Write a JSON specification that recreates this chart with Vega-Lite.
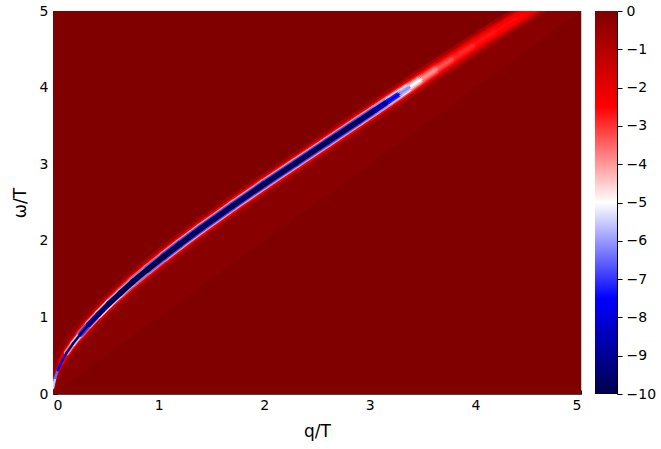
{
  "$schema": "https://vega.github.io/schema/vega-lite/v6.json",
  "padding": {"left": 10, "top": 3, "right": 2, "bottom": 5},
  "spacing": 14,
  "bounds": "flush",
  "config": {
    "font": "DejaVu Sans",
    "view": {"stroke": "#c8c8c8"},
    "axis": {"grid": false, "labelFontSize": 14, "titleFontSize": 17, "titleFontWeight": "normal", "labelColor": "#000", "titleColor": "#000", "tickColor": "#000", "domainColor": "#444"}
  },
  "datasets": {
    "bg": [{"q0": 0, "q1": 5, "w0": 0, "w1": 5, "v": 0}],
    "cone": [
      {"q": 0, "upper": 0.08, "lower": 0, "v": -0.15},
      {"q": 0.045, "upper": 0.31, "lower": 0.045, "v": -0.15},
      {"q": 0.13, "upper": 0.54, "lower": 0.13, "v": -0.15},
      {"q": 0.26, "upper": 0.78, "lower": 0.26, "v": -0.15},
      {"q": 0.43, "upper": 1.04, "lower": 0.43, "v": -0.15},
      {"q": 0.64, "upper": 1.32, "lower": 0.64, "v": -0.15},
      {"q": 0.9, "upper": 1.63, "lower": 0.9, "v": -0.15},
      {"q": 1.2, "upper": 1.955, "lower": 1.2, "v": -0.15},
      {"q": 2.0, "upper": 2.74, "lower": 2.0, "v": -0.15},
      {"q": 2.9, "upper": 3.568, "lower": 2.9, "v": -0.15},
      {"q": 3.8, "upper": 4.39, "lower": 3.8, "v": -0.15},
      {"q": 4.6, "upper": 5.085, "lower": 4.6, "v": -0.15},
      {"q": 5.0, "upper": 5.4, "lower": 5.0, "v": -0.15}
    ],
    "band": [
      {"q": 0, "w": 0.08, "q2": 0.02, "w2": 0.21, "f": -0.1, "a": -0.15, "b": -0.2, "c": -0.3, "d": -0.6, "e": -5.5},
      {"q": 0.02, "w": 0.21, "q2": 0.045, "w2": 0.31, "f": -0.1, "a": -0.15, "b": -0.25, "c": -0.4, "d": -0.9, "e": -6.5},
      {"q": 0.045, "w": 0.31, "q2": 0.08, "w2": 0.42, "f": -0.15, "a": -0.2, "b": -0.3, "c": -0.6, "d": -1.4, "e": -7.5},
      {"q": 0.08, "w": 0.42, "q2": 0.13, "w2": 0.54, "f": -0.2, "a": -0.25, "b": -0.45, "c": -1, "d": -2.4, "e": -8.5},
      {"q": 0.13, "w": 0.54, "q2": 0.19, "w2": 0.66, "f": -0.2, "a": -0.35, "b": -0.8, "c": -1.7, "d": -3.8, "e": -9.3},
      {"q": 0.19, "w": 0.66, "q2": 0.26, "w2": 0.78, "f": -0.25, "a": -0.5, "b": -1.1, "c": -2.5, "d": -5.5, "e": -9.8},
      {"q": 0.26, "w": 0.78, "q2": 0.34, "w2": 0.91, "f": -0.3, "a": -0.7, "b": -1.5, "c": -3.2, "d": -7, "e": -10},
      {"q": 0.34, "w": 0.91, "q2": 0.43, "w2": 1.04, "f": -0.3, "a": -0.9, "b": -1.9, "c": -4, "d": -8.3, "e": -10},
      {"q": 0.43, "w": 1.04, "q2": 0.53, "w2": 1.18, "f": -0.35, "a": -1.1, "b": -2.3, "c": -4.7, "d": -9.2, "e": -10},
      {"q": 0.53, "w": 1.18, "q2": 0.64, "w2": 1.32, "f": -0.4, "a": -1.3, "b": -2.7, "c": -5.3, "d": -9.7, "e": -10},
      {"q": 0.64, "w": 1.32, "q2": 0.76, "w2": 1.47, "f": -0.45, "a": -1.5, "b": -3, "c": -5.8, "d": -10, "e": -10},
      {"q": 0.76, "w": 1.47, "q2": 0.9, "w2": 1.63, "f": -0.5, "a": -1.7, "b": -3.3, "c": -6.2, "d": -10, "e": -10},
      {"q": 0.9, "w": 1.63, "q2": 1.05, "w2": 1.795, "f": -0.55, "a": -1.9, "b": -3.6, "c": -6.6, "d": -10, "e": -10},
      {"q": 1.05, "w": 1.795, "q2": 1.2, "w2": 1.955, "f": -0.6, "a": -2.1, "b": -3.9, "c": -6.8, "d": -10, "e": -10},
      {"q": 1.2, "w": 1.955, "q2": 1.4, "w2": 2.16, "f": -0.6, "a": -2.2, "b": -4, "c": -6.8, "d": -9.6, "e": -10},
      {"q": 1.4, "w": 2.16, "q2": 1.7, "w2": 2.455, "f": -0.6, "a": -2.2, "b": -4, "c": -6.8, "d": -9.6, "e": -10},
      {"q": 1.7, "w": 2.455, "q2": 2.0, "w2": 2.74, "f": -0.6, "a": -2.2, "b": -4, "c": -6.8, "d": -9.6, "e": -10},
      {"q": 2.0, "w": 2.74, "q2": 2.3, "w2": 3.016, "f": -0.6, "a": -2.2, "b": -4, "c": -6.8, "d": -9.6, "e": -10},
      {"q": 2.3, "w": 3.016, "q2": 2.6, "w2": 3.292, "f": -0.6, "a": -2.2, "b": -4, "c": -6.8, "d": -9.6, "e": -10},
      {"q": 2.6, "w": 3.292, "q2": 2.9, "w2": 3.568, "f": -0.6, "a": -2.2, "b": -4, "c": -6.8, "d": -9.6, "e": -10},
      {"q": 2.9, "w": 3.568, "q2": 3.05, "w2": 3.706, "f": -0.6, "a": -2.2, "b": -4, "c": -6.6, "d": -9.3, "e": -9.8},
      {"q": 3.05, "w": 3.706, "q2": 3.18, "w2": 3.826, "f": -0.6, "a": -2.2, "b": -3.9, "c": -6.2, "d": -8.5, "e": -9},
      {"q": 3.18, "w": 3.826, "q2": 3.29, "w2": 3.927, "f": -0.65, "a": -2.2, "b": -3.7, "c": -5.5, "d": -7.2, "e": -7.7},
      {"q": 3.29, "w": 3.927, "q2": 3.39, "w2": 4.019, "f": -0.7, "a": -2.2, "b": -3.4, "c": -4.7, "d": -5.7, "e": -6.1},
      {"q": 3.39, "w": 4.019, "q2": 3.5, "w2": 4.12, "f": -0.75, "a": -2, "b": -3, "c": -3.8, "d": -4.5, "e": -5},
      {"q": 3.5, "w": 4.12, "q2": 3.65, "w2": 4.258, "f": -0.75, "a": -1.9, "b": -2.7, "c": -3.2, "d": -3.6, "e": -3.9},
      {"q": 3.65, "w": 4.258, "q2": 3.8, "w2": 4.39, "f": -0.75, "a": -1.8, "b": -2.5, "c": -2.8, "d": -3.1, "e": -3.3},
      {"q": 3.8, "w": 4.39, "q2": 4.0, "w2": 4.57, "f": -0.75, "a": -1.7, "b": -2.4, "c": -2.6, "d": -2.8, "e": -2.9},
      {"q": 4.0, "w": 4.57, "q2": 4.2, "w2": 4.745, "f": -0.75, "a": -1.6, "b": -2.3, "c": -2.5, "d": -2.6, "e": -2.7},
      {"q": 4.2, "w": 4.745, "q2": 4.4, "w2": 4.915, "f": -0.7, "a": -1.5, "b": -2.2, "c": -2.4, "d": -2.5, "e": -2.6},
      {"q": 4.4, "w": 4.915, "q2": 4.6, "w2": 5.085, "f": -0.7, "a": -1.4, "b": -2.1, "c": -2.3, "d": -2.4, "e": -2.5}
    ],
    "bar": [{"lo": -10, "hi": 0}]
  },
  "hconcat": [
    {
      "width": 528,
      "height": 383,
      "layer": [
        {
          "data": {"name": "bg"},
          "mark": {"type": "rect"},
          "encoding": {
            "x": {"field": "q0", "type": "quantitative", "scale": {"domain": [0, 5], "nice": false, "zero": false},
              "axis": {"title": "q/T", "values": [0, 1, 2, 3, 4, 5], "format": "d", "tickSize": -4, "labelPadding": 8, "titlePadding": 11}},
            "x2": {"field": "q1"},
            "y": {"field": "w0", "type": "quantitative", "scale": {"domain": [0, 5], "nice": false, "zero": false},
              "axis": {"title": "ω/T", "values": [0, 1, 2, 3, 4, 5], "format": "d", "tickSize": -4, "labelPadding": 9, "titlePadding": 10}},
            "y2": {"field": "w1"},
            "color": {"field": "v", "type": "quantitative", "scale": {"domain": [-10, -7.5, -5, -2.5, 0], "range": ["#00004c", "#0000ff", "#ffffff", "#ff0000", "#800000"], "interpolate": "rgb"}, "legend": null}
          }
        },
        {
          "data": {"name": "cone"},
          "mark": {"type": "area", "clip": true},
          "encoding": {
            "x": {"field": "q", "type": "quantitative"},
            "y": {"field": "upper", "type": "quantitative"},
            "y2": {"field": "lower"},
            "color": {"field": "v", "type": "quantitative", "legend": null}
          }
        },
        {
          "data": {"name": "band"},
          "mark": {"type": "rule", "strokeWidth": 20, "strokeCap": "round", "clip": true},
          "encoding": {"x": {"field": "q", "type": "quantitative"}, "y": {"field": "w", "type": "quantitative"}, "x2": {"field": "q2"}, "y2": {"field": "w2"}, "color": {"field": "f", "type": "quantitative", "legend": null}}
        },
        {
          "data": {"name": "band"},
          "mark": {"type": "rule", "strokeWidth": 14, "strokeCap": "round", "clip": true},
          "encoding": {"x": {"field": "q", "type": "quantitative"}, "y": {"field": "w", "type": "quantitative"}, "x2": {"field": "q2"}, "y2": {"field": "w2"}, "color": {"field": "a", "type": "quantitative", "legend": null}}
        },
        {
          "data": {"name": "band"},
          "mark": {"type": "rule", "strokeWidth": 10.5, "strokeCap": "round", "clip": true},
          "encoding": {"x": {"field": "q", "type": "quantitative"}, "y": {"field": "w", "type": "quantitative"}, "x2": {"field": "q2"}, "y2": {"field": "w2"}, "color": {"field": "b", "type": "quantitative", "legend": null}}
        },
        {
          "data": {"name": "band"},
          "mark": {"type": "rule", "strokeWidth": 8, "strokeCap": "round", "clip": true},
          "encoding": {"x": {"field": "q", "type": "quantitative"}, "y": {"field": "w", "type": "quantitative"}, "x2": {"field": "q2"}, "y2": {"field": "w2"}, "color": {"field": "c", "type": "quantitative", "legend": null}}
        },
        {
          "data": {"name": "band"},
          "mark": {"type": "rule", "strokeWidth": 5.5, "strokeCap": "round", "clip": true},
          "encoding": {"x": {"field": "q", "type": "quantitative"}, "y": {"field": "w", "type": "quantitative"}, "x2": {"field": "q2"}, "y2": {"field": "w2"}, "color": {"field": "d", "type": "quantitative", "legend": null}}
        },
        {
          "data": {"name": "band"},
          "mark": {"type": "rule", "strokeWidth": 2.5, "strokeCap": "round", "clip": true},
          "encoding": {"x": {"field": "q", "type": "quantitative"}, "y": {"field": "w", "type": "quantitative"}, "x2": {"field": "q2"}, "y2": {"field": "w2"}, "color": {"field": "e", "type": "quantitative", "legend": null}}
        }
      ]
    },
    {
      "width": 22,
      "height": 383,
      "view": {"stroke": null},
      "data": {"name": "bar"},
      "mark": {"type": "rect", "color": {"gradient": "linear", "x1": 0, "y1": 1, "x2": 0, "y2": 0, "stops": [
        {"offset": 0, "color": "#00004c"},
        {"offset": 0.25, "color": "#0000ff"},
        {"offset": 0.5, "color": "#ffffff"},
        {"offset": 0.75, "color": "#ff0000"},
        {"offset": 1, "color": "#800000"}
      ]}},
      "encoding": {
        "y": {"field": "lo", "type": "quantitative", "scale": {"domain": [-10, 0], "nice": false, "zero": false},
          "axis": {"orient": "right", "title": null, "values": [-10, -9, -8, -7, -6, -5, -4, -3, -2, -1, 0], "format": "d", "tickSize": 5, "labelPadding": 4, "domainColor": "#000"}},
        "y2": {"field": "hi"}
      }
    }
  ]
}
